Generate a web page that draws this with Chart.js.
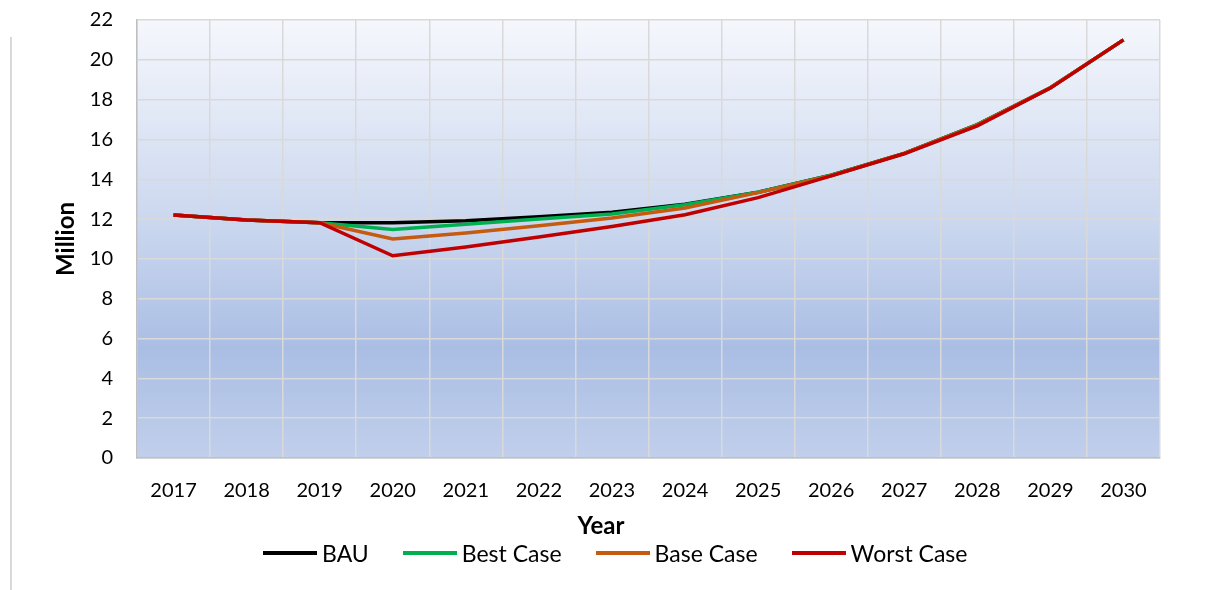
<!DOCTYPE html>
<html>
<head>
<meta charset="utf-8">
<script src="https://cdn.jsdelivr.net/npm/chart.js@4.4.1/dist/chart.umd.min.js"></script>
<style>
  html, body { margin: 0; padding: 0; background: #ffffff; }
  #wrap { position: relative; width: 1208px; height: 590px; overflow: hidden; }
  #c { position: absolute; left: 0; top: 0; }
  #xtitle { position: absolute; left: 601px; top: 524px; transform: translate(-50%, -50%);
            font: bold 24px Lato, sans-serif; color: #000; white-space: nowrap; }
  #legend { position: absolute; left: 263px; top: 553px; transform: translateY(-50%);
            display: flex; align-items: center; font: 23px Lato, sans-serif; color: #000; white-space: nowrap; }
  .li { display: flex; align-items: center; margin-right: 34px; }
  .li:last-child { margin-right: 0; }
  .sw { display: inline-block; width: 54px; height: 4px; margin-right: 5px; }
</style>
</head>
<body>
<div id="wrap">
  <canvas id="c" width="1208" height="590"></canvas>
  <div id="xtitle"></div>
  <div id="legend"></div>
</div>
<script>
const years = ['2017','2018','2019','2020','2021','2022','2023','2024','2025','2026','2027','2028','2029','2030'];
const bau   = [12.2, 11.95, 11.82, 11.82, 11.92, 12.12, 12.34, 12.75, 13.35, 14.2, 15.3, 16.75, 18.6, 21.0];
const best  = [12.2, 11.95, 11.82, 11.48, 11.74, 12.0, 12.26, 12.72, 13.35, 14.2, 15.3, 16.75, 18.6, 21.0];
const base  = [12.2, 11.95, 11.82, 11.0, 11.3, 11.66, 12.06, 12.56, 13.33, 14.18, 15.3, 16.72, 18.6, 21.0];
const worst = [12.2, 11.95, 11.82, 10.16, 10.6, 11.1, 11.63, 12.22, 13.08, 14.17, 15.28, 16.68, 18.58, 21.0];
const seriesNames = ['BAU', 'Best Case', 'Base Case', 'Worst Case'];
const seriesColors = ['#000000', '#00b050', '#c55a11', '#c00000'];
const yTicks = [0, 2, 4, 6, 8, 10, 12, 14, 16, 18, 20, 22];
const xTitle = 'Year';
const yTitle = 'Million';

document.getElementById('xtitle').textContent = xTitle;
const lg = document.getElementById('legend');
seriesNames.forEach((n, i) => {
  const item = document.createElement('span');
  item.className = 'li';
  const sw = document.createElement('span');
  sw.className = 'sw';
  sw.style.background = seriesColors[i];
  const tx = document.createElement('span');
  tx.textContent = n;
  item.appendChild(sw);
  item.appendChild(tx);
  lg.appendChild(item);
});

const bgPlugin = {
  id: 'bg',
  beforeDraw(chart) {
    const {ctx, chartArea: a} = chart;
    const g = ctx.createLinearGradient(0, a.top, 0, a.bottom);
    g.addColorStop(0, '#f5f7fc');
    g.addColorStop(0.45, '#ccd8ef');
    g.addColorStop(0.75, '#aabee4');
    g.addColorStop(1, '#c1cfeb');
    ctx.save();
    ctx.fillStyle = g;
    ctx.fillRect(a.left, a.top, a.right - a.left, a.bottom - a.top);
    ctx.restore();
  },
  afterDraw(chart) {
    const ctx = chart.ctx;
    ctx.save();
    ctx.strokeStyle = '#d9d9d9';
    ctx.lineWidth = 2;
    ctx.beginPath();
    ctx.moveTo(11, 37);
    ctx.lineTo(11, 590);
    ctx.stroke();
    ctx.restore();
  }
};

const datasets = [bau, best, base, worst].map((d, i) => ({
  label: seriesNames[i],
  data: d,
  borderColor: seriesColors[i],
  backgroundColor: seriesColors[i],
  borderWidth: 3.5,
  pointRadius: 0,
  tension: 0,
  fill: false,
  order: 4 - i
}));

new Chart(document.getElementById('c'), {
  type: 'line',
  data: { labels: years, datasets },
  plugins: [bgPlugin],
  options: {
    responsive: false,
    animation: false,
    layout: { padding: { left: 0, right: 48, top: 20, bottom: 0 } },
    plugins: {
      tooltip: { enabled: false },
      legend: { display: false }
    },
    scales: {
      x: {
        offset: true,
        grid: { offset: true, color: '#d9d9d9', lineWidth: 1.5, drawTicks: false },
        border: { color: '#bfbfbf', width: 1.5 },
        ticks: { font: { family: 'Lato', size: 20 }, color: '#000000', padding: 21, maxRotation: 0 },
        afterFit(s) { s.height = 132; s.paddingLeft = 0; s.paddingRight = 0; }
      },
      y: {
        min: 0,
        max: 22,
        afterBuildTicks(s) { s.ticks = yTicks.map(v => ({ value: v })); },
        grid: { color: '#d9d9d9', lineWidth: 1.5, drawTicks: false },
        border: { color: '#bfbfbf', width: 1.5 },
        ticks: { font: { family: 'Lato', size: 20 }, color: '#000000', padding: 24 },
        title: { display: true, text: yTitle, font: { family: 'Lato', size: 24, weight: 'bold' }, color: '#000000', padding: { top: 52, bottom: 0 } },
        afterFit(s) { s.width = 137; s.paddingTop = 0; s.paddingBottom = 0; }
      }
    }
  }
});
</script>
</body>
</html>
